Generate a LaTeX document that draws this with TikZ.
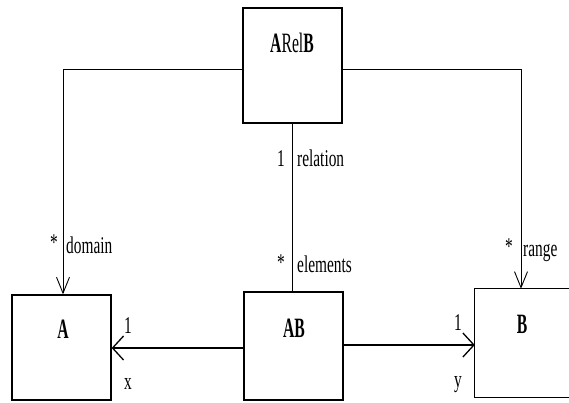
\documentclass[tikz,border=0pt]{standalone}
\usepackage{fontspec}
\setmainfont{Liberation Serif}
\newfontfamily\condfont[FakeStretch=0.64]{Liberation Serif}
\newfontfamily\boxfont[FakeStretch=0.56]{Liberation Serif}
\usetikzlibrary{arrows.meta}
\begin{document}
\begin{tikzpicture}[x=1pt,y=-1pt,
  box/.style={draw=black, line width=1.3pt, fill=white, inner sep=0pt},
  openbox/.style={fill=white, inner sep=0pt},
  boxedge/.style={draw=black, line width=1.3pt},
  boxlabel/.style={inner sep=0pt, anchor=base, font=\fontsize{28}{30}\boxfont},
  elabel/.style={inner sep=0pt, font=\fontsize{24}{26}\condfont},
  conn/.style={draw=black, line width=0.8pt},
  downarrow/.style={conn, -{Straight Barb[length=16pt,width=13pt,line width=0.9pt]}},
  sidearrow/.style={draw=black, line width=1.6pt, -{Straight Barb[length=11pt,width=24pt,line width=1.3pt]}}
]
\useasboundingbox (0,0) rectangle (569,403);
\fill[white] (0,0) rectangle (569,403);

% boxes
\node[box, minimum width=99pt, minimum height=115pt] (arelb) at (292.5,65.5) {};
\node[box, minimum width=99pt, minimum height=105pt] (a) at (61.5,347.5) {};
\node[box, minimum width=99pt, minimum height=108pt] (ab) at (293.5,346) {};
\node[openbox, minimum width=92pt, minimum height=108pt] (b) at (521,343) {};
\draw[boxedge] ([xshift=2pt]b.north east) -- (b.north west) -- (b.south west) -- ([xshift=2pt]b.south east);

% box labels
\node[boxlabel] (larelb) at (292,53) {\textbf{A}Rel\textbf{B}};
\node[boxlabel] (la) at (63,338) {\textbf{A}};
\node[boxlabel] (lab) at (294,337) {\textbf{AB}};
\node[boxlabel] (lb) at (522,333) {\textbf{B}};

% connectors
\draw[downarrow] ([yshift=-3.5pt]arelb.west) -| ([xshift=1.5pt]a.north);
\draw[downarrow] ([yshift=-3.5pt]arelb.east) -| (b.north);
\draw[conn] (arelb.south) -- (arelb.south |- ab.north);
\draw[sidearrow] ([yshift=-2pt]ab.west) -- ([yshift=-2pt]ab.west -| a.east);
\draw[sidearrow] ([yshift=1pt]ab.east) -- ([yshift=1pt]ab.east -| b.west);

% edge labels
\node[elabel, anchor=base east] (m1) at (285,167) {1};
\node[elabel, anchor=base west] (rel) at (297,167) {relation};
\node[elabel, anchor=base east] (m2) at (285,270) {*};
\node[elabel, anchor=base west] (elem) at (297,272) {elements};
\node[elabel, anchor=base east] (m3) at (58,250) {*};
\node[elabel, anchor=base west] (dom) at (66,253) {domain};
\node[elabel, anchor=base east] (m4) at (513,254) {*};
\node[elabel, anchor=base west] (rng) at (523,256) {range};
\node[elabel, anchor=base] (m5) at (128,333) {1};
\node[elabel, anchor=base] (mx) at (128,389) {x};
\node[elabel, anchor=base] (m6) at (458,330) {1};
\node[elabel, anchor=base] (my) at (458,387) {y};
\end{tikzpicture}
\end{document}
